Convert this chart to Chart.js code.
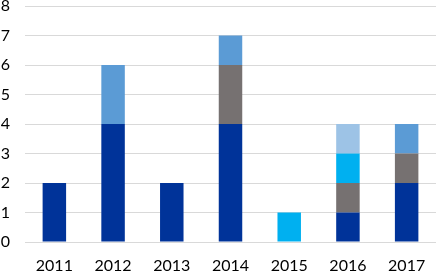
<!DOCTYPE html>
<html>
<head>
<meta charset="utf-8">
<script src="https://cdn.jsdelivr.net/npm/chart.js@4"></script>
<style>
  html, body { margin: 0; padding: 0; background: #fff; }
  #wrap { width: 436px; height: 273px; }
</style>
</head>
<body>
<div id="wrap"><canvas id="years_chart" width="436" height="273"></canvas></div>
<script>
var years = ["2011", "2012", "2013", "2014", "2015", "2016", "2017"];

var darkBlue  = [2, 4, 2, 4, 0, 1, 2];
var grey      = [0, 0, 0, 2, 0, 1, 1];
var cyan      = [0, 0, 0, 0, 1, 1, 0];
var lightBlue = [0, 0, 0, 0, 0, 1, 0];
var midBlue   = [0, 2, 0, 1, 0, 0, 1];

var yTicks = [0, 1, 2, 3, 4, 5, 6, 7, 8];

function series(label, data, colour) {
    return {
        label: label,
        data: data,
        backgroundColor: colour,
        borderWidth: 0,
        barPercentage: 0.5,
        categoryPercentage: 0.8
    };
}

var ctx = document.getElementById("years_chart");

new Chart(ctx, {
    type: 'bar',
    data: {
        labels: years,
        datasets: [
            series("A", darkBlue, '#003399'),
            series("B", grey, '#767171'),
            series("C", cyan, '#00b0f0'),
            series("D", lightBlue, '#9dc3e6'),
            series("E", midBlue, '#5b9bd5')
        ]
    },
    options: {
        responsive: false,
        animation: false,
        layout: {
            autoPadding: false,
            padding: { top: 6, right: 0, left: 0, bottom: 0 }
        },
        plugins: {
            legend: { display: false },
            tooltip: { enabled: false }
        },
        scales: {
            x: {
                stacked: true,
                grid: { display: false, drawTicks: false },
                border: { display: false },
                ticks: {
                    color: '#000',
                    font: { family: 'Lato', size: 16 },
                    padding: 14,
                    maxRotation: 0
                },
                afterFit: function(s) {
                    s.height = 31;
                    s.paddingLeft = 0;
                    s.paddingRight = 0;
                }
            },
            y: {
                stacked: true,
                min: 0,
                max: 8,
                afterBuildTicks: function(s) {
                    s.ticks = yTicks.map(function(v) { return { value: v }; });
                },
                grid: { color: '#d9d9d9', lineWidth: 1, drawTicks: false },
                border: { display: false },
                ticks: {
                    color: '#000',
                    font: { family: 'Lato', size: 16 },
                    padding: 15
                },
                afterFit: function(s) {
                    s.width = 25;
                    s.paddingTop = 0;
                    s.paddingBottom = 0;
                }
            }
        }
    }
});
</script>
</body>
</html>
